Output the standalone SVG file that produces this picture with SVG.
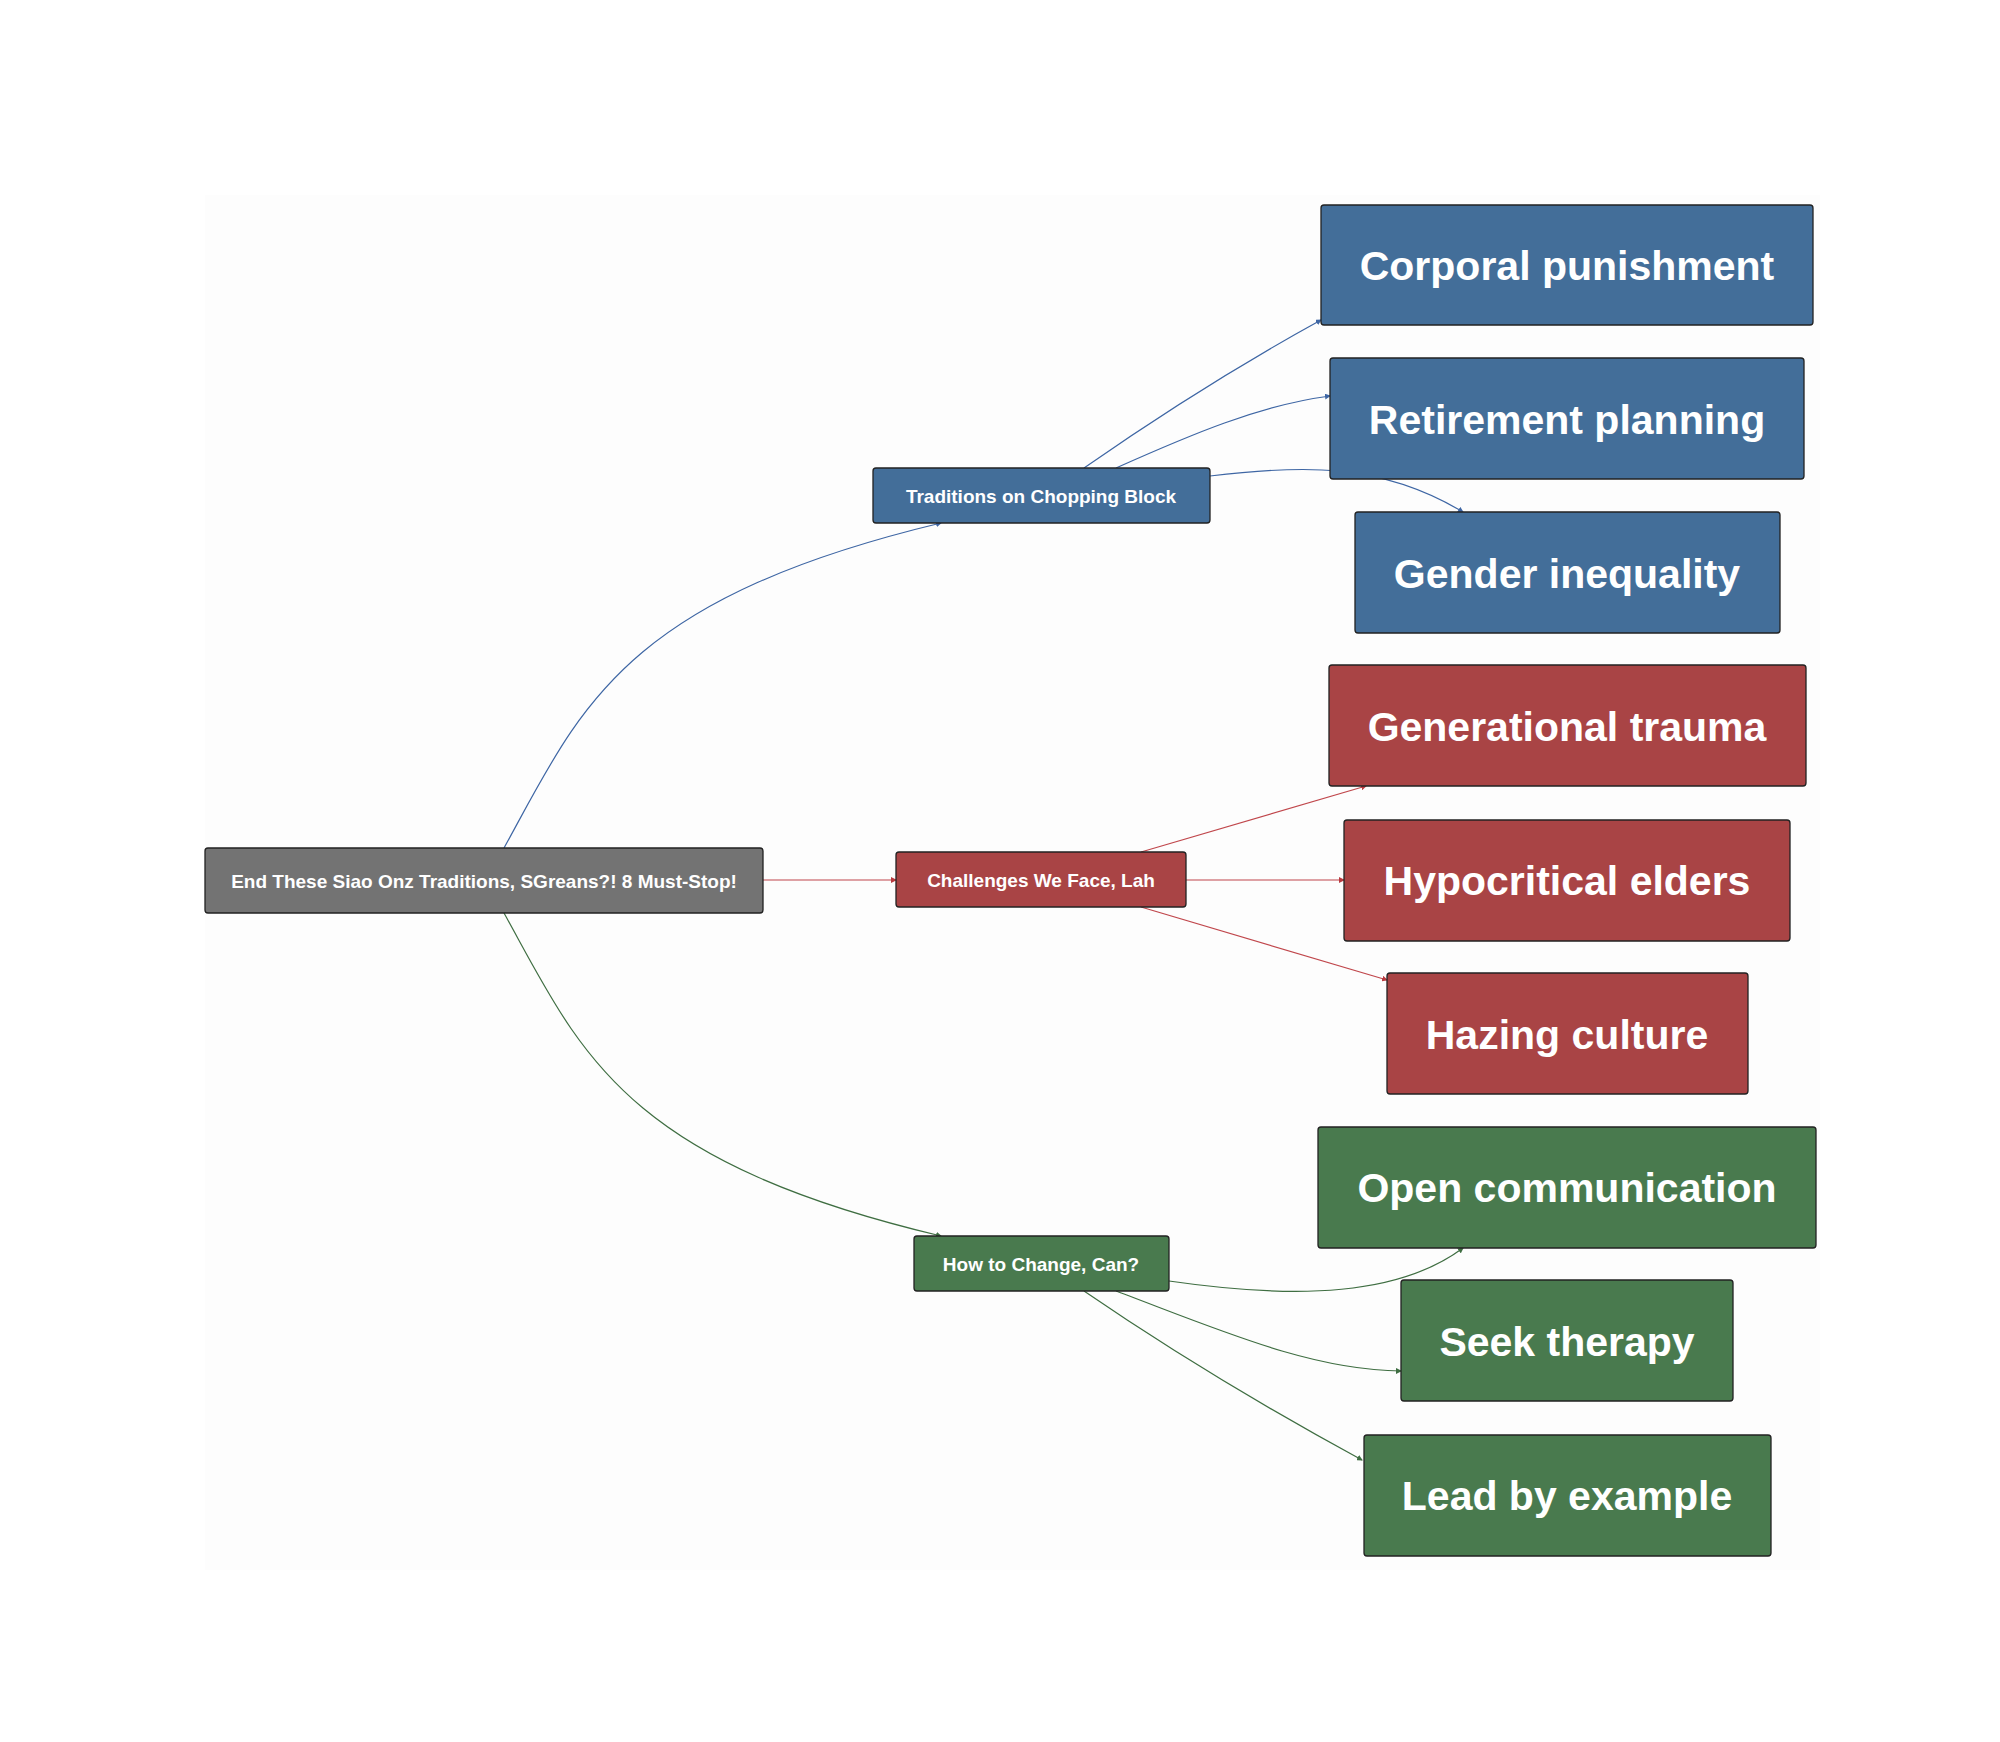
<svg xmlns="http://www.w3.org/2000/svg" width="2000" height="1742" viewBox="0 0 2000 1742">
<defs>
<marker id="ab" markerWidth="6" markerHeight="6" refX="5" refY="3" orient="auto" markerUnits="userSpaceOnUse"><path d="M0,0 L6,3 L0,6z" fill="#3e66a4"/></marker>
<marker id="ar" markerWidth="6" markerHeight="6" refX="5" refY="3" orient="auto" markerUnits="userSpaceOnUse"><path d="M0,0 L6,3 L0,6z" fill="#b83a3f"/></marker>
<marker id="ag" markerWidth="6" markerHeight="6" refX="5" refY="3" orient="auto" markerUnits="userSpaceOnUse"><path d="M0,0 L6,3 L0,6z" fill="#3f6e42"/></marker>
</defs>
<style>
.n{stroke:#222;stroke-width:1.3}
.s{font-family:"Liberation Sans",Arial,sans-serif;font-weight:bold;fill:#fff;font-size:19px;text-anchor:middle;dominant-baseline:central}
.l{font-family:"Liberation Sans",Arial,sans-serif;font-weight:bold;fill:#fff;font-size:41px;text-anchor:middle;dominant-baseline:central}
.b{fill:#436e99}.r{fill:#a94445}.g{fill:#497a4e}
.e{fill:none;stroke-width:1.2}
.eb{stroke:#3e66a4}.er{stroke:#c0474c}.eg{stroke:#3f6e42}
</style>
<rect width="2000" height="1742" fill="#fff"/>
<rect x="205" y="195" width="1615" height="1375" fill="#fdfdfd"/>
<g id="connectors">
<path class="e eb" d="M504,848 C580,710 620,600 941,523" marker-end="url(#ab)"/>
<path class="e er" d="M763,880 L896,880" marker-end="url(#ar)"/>
<path class="e eg" d="M504,913 C580,1050 620,1160 941,1236" marker-end="url(#ag)"/>
<path class="e eb" d="M1084,468 C1160,415 1230,370 1321,320" marker-end="url(#ab)"/>
<path class="e eb" d="M1116,468 C1190,435 1260,405 1330,396" marker-end="url(#ab)"/>
<path class="e eb" d="M1210,476 C1300,465 1380,462 1463,512" marker-end="url(#ab)"/>
<path class="e er" d="M1141,852 L1366,786" marker-end="url(#ar)"/>
<path class="e er" d="M1186,880 L1344,880" marker-end="url(#ar)"/>
<path class="e er" d="M1141,907 L1387,980" marker-end="url(#ar)"/>
<path class="e eg" d="M1169,1281 C1300,1300 1400,1295 1463,1248" marker-end="url(#ag)"/>
<path class="e eg" d="M1116,1291 C1220,1330 1310,1370 1401,1371" marker-end="url(#ag)"/>
<path class="e eg" d="M1084,1291 C1170,1350 1270,1410 1362,1460" marker-end="url(#ag)"/>
</g>
<g id="root"><rect class="n" x="205" y="848" width="558" height="65" rx="3" fill="#737373" stroke="#666"/><text class="s" x="484" y="881">End These Siao Onz Traditions, SGreans?! 8 Must-Stop!</text></g>
<g id="traditions"><rect class="n b" x="873" y="468" width="337" height="55" rx="3" stroke="#3a5f85"/><text class="s" x="1041" y="496">Traditions on Chopping Block</text></g>
<g id="challenges"><rect class="n r" x="896" y="852" width="290" height="55" rx="3" stroke="#8f3a3a"/><text class="s" x="1041" y="880">Challenges We Face, Lah</text></g>
<g id="how"><rect class="n g" x="914" y="1236" width="255" height="55" rx="3" stroke="#3f6a43"/><text class="s" x="1041" y="1264">How to Change, Can?</text></g>
<g id="corporal"><rect class="n b" x="1321" y="205" width="492" height="120" rx="3"/><text class="l" x="1567" y="266">Corporal punishment</text></g>
<g id="retirement"><rect class="n b" x="1330" y="358" width="474" height="121" rx="3"/><text class="l" x="1567" y="420">Retirement planning</text></g>
<g id="gender"><rect class="n b" x="1355" y="512" width="425" height="121" rx="3"/><text class="l" x="1567" y="574">Gender inequality</text></g>
<g id="generational"><rect class="n r" x="1329" y="665" width="477" height="121" rx="3"/><text class="l" x="1567" y="727">Generational trauma</text></g>
<g id="hypocritical"><rect class="n r" x="1344" y="820" width="446" height="121" rx="3"/><text class="l" x="1567" y="881">Hypocritical elders</text></g>
<g id="hazing"><rect class="n r" x="1387" y="973" width="361" height="121" rx="3"/><text class="l" x="1567" y="1035">Hazing culture</text></g>
<g id="open"><rect class="n g" x="1318" y="1127" width="498" height="121" rx="3"/><text class="l" x="1567" y="1188">Open communication</text></g>
<g id="seek"><rect class="n g" x="1401" y="1280" width="332" height="121" rx="3"/><text class="l" x="1567" y="1342">Seek therapy</text></g>
<g id="lead"><rect class="n g" x="1364" y="1435" width="407" height="121" rx="3"/><text class="l" x="1567" y="1496">Lead by example</text></g>
</svg>
